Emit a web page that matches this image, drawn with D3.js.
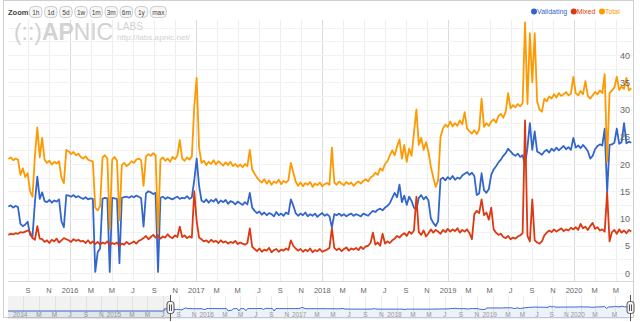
<!DOCTYPE html>
<html><head><meta charset="utf-8">
<script src="https://cdn.jsdelivr.net/npm/d3@7"></script>
<style>body{margin:0;background:#fff}svg{display:block}text{font-family:"Liberation Sans",Arial,Helvetica,sans-serif}</style>
</head><body><svg id="c" width="640" height="322"></svg>
<script>
// ---------- data (weekly samples) ----------
const startDate = "2015-07-06";
const viewStart = "2015-07-05";
const viewEnd = "2020-06-20";
const navStart = "2013-11-05";
const validating = [
12.2,12.4,12.0,12.3,12.1,9.0,8.6,8.9,9.4,7.0,
6.6,13.0,17.7,13.6,14.8,13.2,13.0,13.4,12.9,13.3,
13.1,13.5,9.5,8.4,14.3,14.2,14.0,14.3,13.9,14.1,
13.8,13.6,13.9,13.5,13.7,13.6,0.2,3.8,4.5,13.6,
13.8,13.7,0.2,13.8,13.7,13.6,1.8,13.8,13.9,14.0,
13.8,14.1,13.9,14.2,14.0,13.7,8.5,14.6,15.0,14.8,
14.5,14.7,0.2,13.8,14.0,13.6,13.9,13.7,13.5,13.8,
14.0,13.6,13.8,13.7,14.1,13.6,13.9,17.0,21.0,16.0,
13.3,13.0,13.5,12.9,13.4,13.1,13.6,12.8,13.3,13.0,
13.4,12.7,13.2,13.0,12.6,13.1,12.8,12.5,13.0,12.6,
14.7,12.0,11.4,11.0,11.3,10.7,11.1,10.6,11.0,10.8,
10.4,11.2,10.6,10.9,10.5,11.1,10.8,13.5,12.4,11.0,
10.5,10.9,10.6,11.1,10.4,10.8,10.5,10.9,10.3,10.7,
11.0,10.5,10.8,10.4,8.4,10.8,10.6,10.9,10.5,10.8,
10.4,10.7,10.9,10.5,10.8,10.6,10.4,10.9,10.7,10.5,
11.0,11.4,11.2,11.6,11.8,11.5,12.0,12.3,12.8,13.8,
14.7,13.9,16.2,13.0,14.2,12.5,14.0,13.2,12.0,11.6,
13.8,14.3,13.5,14.0,13.3,10.0,9.2,8.6,9.5,17.2,
17.5,17.0,17.6,17.2,17.8,17.1,17.5,17.3,17.9,18.2,
18.5,18.0,18.4,17.8,14.3,14.6,18.3,15.2,14.7,15.4,
18.0,19.0,19.6,20.3,20.8,21.5,22.0,22.8,22.3,21.8,
21.5,21.9,21.3,21.6,19.8,23.0,27.5,22.6,26.0,22.3,
22.0,21.7,22.3,22.6,22.1,22.8,22.4,23.0,22.5,22.9,
23.3,22.7,23.1,22.6,24.8,23.0,23.4,22.9,23.5,23.0,
22.4,21.0,21.5,22.7,23.3,23.6,23.4,26.5,14.8,23.5,
23.6,23.9,26.5,23.7,24.0,27.5,23.8,24.1,23.9];
const mixed = [
7.0,7.2,7.1,7.3,7.2,7.5,7.4,7.6,7.8,7.5,
6.4,6.1,8.6,6.3,6.2,5.7,6.0,5.5,6.1,5.8,
6.3,5.6,6.0,6.4,6.2,6.0,5.7,6.2,5.9,6.1,
5.8,5.9,5.5,6.0,5.4,5.8,5.3,5.7,5.2,5.6,
5.4,5.8,5.1,5.5,5.3,5.6,5.0,5.4,5.2,5.7,
5.3,5.5,5.8,5.4,5.9,6.1,6.4,6.8,6.2,6.6,
7.0,6.5,6.9,6.3,6.7,6.5,7.1,6.6,6.4,6.9,
6.6,8.5,6.6,6.9,6.4,6.7,6.5,15.0,9.5,6.5,
6.2,5.8,6.0,5.6,6.1,5.7,5.9,5.5,6.0,5.6,
5.8,5.4,5.7,5.5,5.9,5.3,5.6,5.4,5.2,5.5,
8.2,4.8,4.4,4.0,4.5,3.9,4.3,4.1,4.6,3.8,
4.2,4.4,3.9,4.3,4.1,4.5,4.2,6.0,5.0,4.5,
4.1,4.4,3.9,4.3,4.0,4.5,3.8,4.2,4.0,4.4,
3.9,4.1,4.3,4.6,8.2,4.6,4.2,4.5,4.0,4.4,
4.7,4.1,4.5,4.3,4.6,4.2,4.8,4.4,4.9,5.0,
5.5,7.4,5.2,5.6,5.0,7.2,5.4,5.8,5.5,6.0,
6.3,6.8,6.5,7.0,7.3,6.8,7.6,7.2,7.8,14.0,
7.5,7.0,7.8,6.7,7.3,8.0,7.4,7.9,7.6,7.2,
7.9,7.5,8.1,7.6,8.0,7.7,8.2,7.4,7.9,7.6,
8.0,7.3,6.2,10.8,11.4,11.0,13.5,10.6,11.1,9.8,
12.0,8.0,7.4,7.0,7.2,6.6,6.4,6.8,6.2,6.5,
6.3,6.7,6.9,7.3,28.0,6.8,5.8,13.5,6.0,5.6,
5.4,5.8,6.9,7.4,7.8,7.5,8.0,7.6,7.9,8.2,
7.7,8.0,7.8,8.3,8.0,8.4,7.9,9.0,8.2,8.5,
7.9,8.6,9.2,8.1,8.4,7.8,8.0,7.6,14.8,5.8,
7.5,7.9,7.2,8.0,7.4,7.8,7.3,7.9,7.6];
const total = [
20.9,21.2,20.7,21.0,20.8,18.0,19.2,17.6,18.3,15.0,
14.0,21.5,26.7,21.2,24.8,20.8,20.2,20.6,19.9,20.4,
20.1,20.5,17.5,16.5,22.6,22.3,21.8,22.2,21.6,21.9,
21.3,21.0,21.4,20.8,20.6,20.5,12.0,11.5,12.3,21.2,
21.6,21.0,8.0,20.8,21.3,20.6,9.7,19.8,20.2,19.6,
20.0,20.5,20.2,20.8,21.0,20.7,16.0,21.4,21.8,21.5,
22.0,21.6,7.3,20.8,21.2,20.6,21.0,20.4,21.3,20.9,
21.5,24.4,21.0,20.6,21.2,20.8,21.4,30.5,35.8,23.0,
20.2,20.6,19.8,20.4,20.0,20.7,19.9,20.5,20.1,19.7,
20.3,19.8,20.4,19.6,20.0,19.5,19.9,19.4,20.0,19.6,
22.6,19.0,18.2,17.5,17.0,16.6,17.2,16.4,17.0,16.2,
16.8,16.5,17.1,16.3,16.9,16.6,17.0,20.2,18.5,16.8,
16.0,16.6,15.9,16.5,16.2,16.7,15.8,16.4,16.1,16.6,
15.9,16.3,16.5,16.2,23.0,16.6,16.2,16.8,16.4,16.1,
16.7,16.3,16.6,16.0,16.5,16.8,16.4,16.9,17.2,16.8,
17.5,17.8,18.4,18.0,19.2,18.8,20.0,20.5,21.6,22.5,
21.6,23.2,24.5,21.0,23.5,20.4,22.8,21.5,25.7,30.0,
23.5,24.8,22.6,24.0,22.2,19.5,17.5,15.8,17.0,25.0,
26.5,27.2,26.8,27.8,26.9,27.5,27.0,28.0,27.3,29.5,
26.5,26.0,25.6,26.2,25.5,26.3,32.0,26.8,27.5,27.0,
27.8,28.2,27.6,28.8,29.2,28.5,29.6,33.0,30.2,30.8,
30.4,31.0,30.6,31.2,46.0,31.0,44.0,35.0,44.0,31.5,
30.0,29.6,32.0,31.5,32.4,32.0,32.8,32.2,33.0,32.5,
32.8,33.2,32.6,32.9,36.0,33.0,32.6,33.4,32.8,35.2,
32.5,32.0,32.6,33.2,32.8,33.5,33.0,36.5,20.4,33.0,
33.5,34.0,36.0,33.6,34.2,33.8,35.8,33.5,33.9];
const navEarly = [0, 0];           // navigator values before the series starts
const seriesNames = ["Validating", "Mixed", "Total"];
const seriesColors = ["#3366cc", "#dc3912", "#ff9900"];
const yTicks = [0, 5, 10, 15, 20, 25, 30, 35, 40];
const monthLetters = ["J","F","M","A","M","J","J","A","S","O","N","D"];
const zoomButtons = ["1h","1d","5d","1w","1m","3m","6m","1y","max"];

// ---------- layout ----------
const svg = d3.select("#c");
const P = {l: 8, r: 633, t: 20, b: 281};
const parse = d3.timeParse("%Y-%m-%d");
const t0 = parse(startDate);
const dates = validating.map((_, i) => d3.timeDay.offset(t0, i * 7));
const x = d3.scaleTime().domain([parse(viewStart), parse(viewEnd)]).range([P.l, P.r]);
const y = d3.scaleLinear().domain([0, 40]).range([273, 55]);

// border
svg.append("rect").attr("x", 3.5).attr("y", 0.5).attr("width", 630).attr("height", 317)
  .attr("fill", "none").attr("stroke", "#cfcfcf");

// grid
const xt = x.ticks(d3.timeMonth.every(2));
svg.append("g").selectAll("line").data(xt).join("line")
  .attr("x1", d => Math.round(x(d)) + 0.5).attr("x2", d => Math.round(x(d)) + 0.5)
  .attr("y1", P.t).attr("y2", P.b)
  .attr("stroke", d => d.getMonth() === 0 ? "#dadada" : "#eeeeee");
svg.append("g").selectAll("line").data(d3.range(0, 46, 2.5)).join("line")
  .attr("x1", P.l).attr("x2", P.r)
  .attr("y1", d => Math.round(y(d)) + 0.5).attr("y2", d => Math.round(y(d)) + 0.5)
  .attr("stroke", "#f2f2f2");
svg.append("line").attr("x1", P.l).attr("x2", P.r).attr("y1", P.b + 0.5).attr("y2", P.b + 0.5).attr("stroke", "#d8d8d8");

// logo watermark
const wm = "#d2d2d2";
const logo = svg.append("text").attr("x", 14).attr("y", 40).attr("font-size", 24).attr("fill", wm)
  .attr("textLength", 99).attr("lengthAdjust", "spacingAndGlyphs");
logo.append("tspan").text("(::)");
logo.append("tspan").attr("font-weight", "bold").text("AP");
logo.append("tspan").text("NIC");
svg.append("text").attr("x", 117).attr("y", 30).attr("font-size", 10.5).attr("fill", wm)
  .attr("textLength", 26).attr("lengthAdjust", "spacingAndGlyphs").text("LABS");
svg.append("text").attr("x", 117).attr("y", 40).attr("font-size", 7.5).attr("fill", wm)
  .attr("textLength", 73).attr("lengthAdjust", "spacingAndGlyphs").text("http://labs.apnic.net/");

// zoom buttons
svg.append("text").attr("x", 8).attr("y", 14.5).attr("font-size", 7.5).attr("fill", "#444").attr("font-weight", "bold").text("Zoom:");
let bx = 29;
zoomButtons.forEach(b => {
  const w = b.length === 3 ? 16 : 12.5;
  svg.append("rect").attr("x", bx + 0.5).attr("y", 6.5).attr("width", w).attr("height", 11).attr("rx", 4)
    .attr("fill", "#f7f7f7").attr("stroke", "#cccccc");
  svg.append("text").attr("x", bx + 0.5 + w / 2).attr("y", 14.5).attr("text-anchor", "middle")
    .attr("font-size", 6.5).attr("fill", "#444").text(b);
  bx += w + 2.6;
});

// series
svg.append("clipPath").attr("id", "clip").append("rect")
  .attr("x", P.l).attr("y", P.t).attr("width", P.r - P.l).attr("height", P.b - P.t);
const seriesData = [validating, mixed, total];
const line = d3.line().x((d, i) => x(dates[i])).y(d => y(d));
const g = svg.append("g").attr("clip-path", "url(#clip)");
seriesData.forEach((s, k) => {
  g.append("path").datum(s).attr("d", line).attr("fill", "none")
    .attr("stroke", seriesColors[k]).attr("stroke-width", 1.8).attr("stroke-linejoin", "round");
});

// y labels
svg.append("g").selectAll("text").data(yTicks).join("text")
  .attr("x", 630).attr("y", d => y(d) + 3.5).attr("text-anchor", "end")
  .attr("font-size", 9).attr("fill", "#666").text(d => d);

// x labels
svg.append("g").selectAll("text").data(xt).join("text")
  .attr("x", d => x(d)).attr("y", 293).attr("text-anchor", "middle")
  .attr("font-size", 7.5).attr("fill", "#666")
  .text(d => d.getMonth() === 0 ? d.getFullYear() : monthLetters[d.getMonth()]);

// legend
let lx = 534;
seriesNames.forEach((n, k) => {
  svg.append("circle").attr("cx", lx).attr("cy", 11.5).attr("r", 3).attr("fill", seriesColors[k]);
  const t = svg.append("text").attr("x", lx + 3).attr("y", 14).attr("font-size", 7)
    .attr("fill", seriesColors[k]).text(n);
  lx += 3 + t.node().getComputedTextLength() + 6.5;
});

// navigator (approximates the ordinal axis with a piecewise time scale)
const N = {t: 296, b: 319};
const dEnd = dates[dates.length - 1];
const nx = d3.scaleTime()
  .domain([parse(navStart), parse("2014-03-01"), parse("2016-03-01"), parse("2017-03-01"),
           parse("2018-03-01"), parse("2019-03-01"), parse("2020-03-01"), dEnd])
  .range([P.l, 39, 225, 317, 413, 508, 595, 629]);
const ny = d3.scaleLinear().domain([0, 80]).range([311, 297]);
const navDates = [parse(navStart), t0].concat(dates);
const navVals = navEarly.concat(validating);
const nt = d3.timeMonth.every(2).range(parse(navStart), dEnd);
svg.append("g").selectAll("line").data(nt).join("line")
  .attr("x1", d => Math.round(nx(d)) + 0.5).attr("x2", d => Math.round(nx(d)) + 0.5)
  .attr("y1", N.t).attr("y2", N.b).attr("stroke", "#ececec");
const area = d3.area().x((d, i) => nx(navDates[i])).y0(N.b).y1(d => ny(d));
svg.append("path").datum(navVals).attr("d", area).attr("fill", "rgba(51,102,204,0.09)");
svg.append("path").datum(navVals).attr("d", d3.line().x((d, i) => nx(navDates[i])).y(d => ny(d)))
  .attr("fill", "none").attr("stroke", "#3366cc").attr("stroke-width", 1);
svg.append("g").selectAll("text").data(nt).join("text")
  .attr("x", d => nx(d) - (d.getMonth() === 0 ? 3 : 0)).attr("y", 316.5)
  .attr("text-anchor", "middle").attr("font-size", 6.5).attr("fill", "#999")
  .text(d => d.getMonth() === 0 ? d.getFullYear() : monthLetters[d.getMonth()]);
svg.append("rect").attr("x", P.l).attr("y", N.t).attr("width", 170 - P.l).attr("height", N.b - N.t)
  .attr("fill", "rgba(128,128,128,0.10)");
[170, 630].forEach(hx => {
  svg.append("line").attr("x1", hx + 0.5).attr("x2", hx + 0.5).attr("y1", N.t - 1).attr("y2", N.b + 2).attr("stroke", "#555");
  svg.append("rect").attr("x", hx - 3).attr("y", 301.5).attr("width", 7).attr("height", 12).attr("rx", 2.5)
    .attr("fill", "#f2f2f2").attr("stroke", "#555");
  svg.append("line").attr("x1", hx - 0.5).attr("x2", hx - 0.5).attr("y1", 304.5).attr("y2", 311).attr("stroke", "#555");
  svg.append("line").attr("x1", hx + 1.5).attr("x2", hx + 1.5).attr("y1", 304.5).attr("y2", 311).attr("stroke", "#555");
});
</script></body></html>
